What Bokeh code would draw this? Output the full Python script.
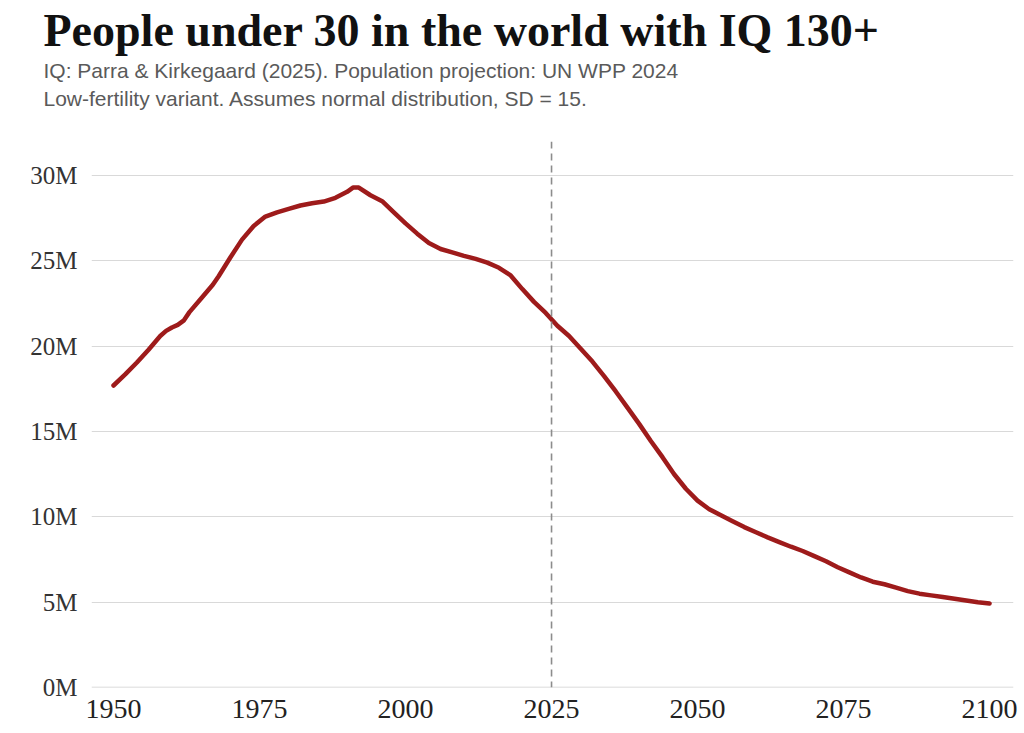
from bokeh.plotting import figure
from bokeh.models import Span, Title, FixedTicker, Range1d
from bokeh.embed import file_html
from bokeh.resources import INLINE

# ---- data (millions of people under 30 with IQ 130+) ----
years = [1950, 1952, 1954, 1956, 1958, 1959, 1960, 1961, 1962, 1963, 1965, 1967,
         1968, 1970, 1972, 1974, 1976, 1978, 1980, 1982, 1984, 1986, 1988, 1990,
         1991, 1992, 1994, 1996, 1998, 2000, 2002, 2004, 2006, 2008, 2010, 2012,
         2014, 2016, 2018, 2020, 2022, 2024, 2026, 2028, 2030, 2032, 2034, 2036,
         2038, 2040, 2042, 2044, 2046, 2048, 2050, 2052, 2054, 2056, 2058, 2060,
         2062, 2064, 2066, 2068, 2070, 2072, 2074, 2076, 2078, 2080, 2082, 2084,
         2086, 2088, 2090, 2092, 2094, 2096, 2098, 2100]
people_m = [17.7, 18.35, 19.05, 19.8, 20.6, 20.9, 21.1, 21.25, 21.5, 22.0, 22.8, 23.6,
            24.1, 25.2, 26.25, 27.05, 27.6, 27.85, 28.05, 28.25, 28.38, 28.48, 28.7, 29.05,
            29.3, 29.3, 28.85, 28.5, 27.85, 27.2, 26.6, 26.05, 25.7, 25.5, 25.3, 25.12,
            24.9, 24.6, 24.15, 23.35, 22.6, 21.95, 21.2, 20.6, 19.85, 19.1, 18.25, 17.35,
            16.4, 15.45, 14.45, 13.5, 12.5, 11.65, 10.95, 10.45, 10.1, 9.75, 9.4, 9.1,
            8.8, 8.52, 8.25, 8.0, 7.7, 7.4, 7.05, 6.75, 6.45, 6.2, 6.05, 5.85,
            5.65, 5.5, 5.4, 5.3, 5.2, 5.1, 5.0, 4.92]

x_ticks = [1950, 1975, 2000, 2025, 2050, 2075, 2100]
y_ticks = [0, 5, 10, 15, 20, 25, 30]
y_tick_labels = ["0M", "5M", "10M", "15M", "20M", "25M", "30M"]
marker_year = 2025

title_text = "People under 30 in the world with IQ 130+"
subtitle_1 = "IQ: Parra & Kirkegaard (2025). Population projection: UN WPP 2024"
subtitle_2 = "Low-fertility variant. Assumes normal distribution, SD = 15."

SERIF = "Liberation Serif"
SANS = "Liberation Sans"

p = figure(width=1020, height=732, output_backend="svg", toolbar_location=None,
           x_range=Range1d(1946.23, 2104.1), y_range=Range1d(0, 32),
           min_border_left=91, min_border_right=7, min_border_top=10,
           min_border_bottom=45)
p.outline_line_color = None
p.background_fill_color = "white"
p.border_fill_color = "white"

# axes
p.xaxis.ticker = FixedTicker(ticks=x_ticks)
p.yaxis.ticker = FixedTicker(ticks=y_ticks)
p.yaxis.major_label_overrides = {t: l for t, l in zip(y_ticks, y_tick_labels)}
p.xaxis.major_label_overrides = {t: str(t) for t in x_ticks}
for ax in (p.xaxis, p.yaxis):
    ax.axis_line_color = None
    ax.major_tick_line_color = None
    ax.minor_tick_line_color = None
    ax.major_tick_out = 0
    ax.major_tick_in = 0
    ax.major_label_text_font = SERIF
p.xaxis.major_label_text_font_size = "28px"
p.xaxis.major_label_text_color = "#222222"
p.xaxis.major_label_standoff = 12
p.yaxis.major_label_text_font_size = "25px"
p.yaxis.major_label_text_color = "#333333"
p.yaxis.major_label_standoff = 14

p.xgrid.grid_line_color = None
p.ygrid.grid_line_color = "#d9d9d9"
p.ygrid.grid_line_width = 1.2

# baseline at 0
p.add_layout(Span(location=0, dimension="width", line_color="#d0d0d0", line_width=1.5))

# 2025 marker
p.add_layout(Span(location=marker_year, dimension="height", line_color="#8c8c8c",
                  line_width=1.6, line_dash="7 5"))

# series
p.line(years, people_m, line_color="#9e1b1b", line_width=4.5,
       line_join="round", line_cap="round")

# titles: index 0 is nearest to the frame (first one is a blank spacer)
p.add_layout(Title(text=" ", text_font_size="1px", standoff=28), "above")
p.add_layout(Title(text=subtitle_1 + "\n" + subtitle_2, text_font=SANS,
                   text_font_size="21px", text_font_style="normal",
                   text_color="#5a5a5a", text_line_height=1.23,
                   align="left", offset=-48, standoff=0), "above")
p.add_layout(Title(text=title_text, text_font=SERIF, text_font_size="46px",
                   text_font_style="bold", text_color="#111111",
                   align="left", offset=-48, standoff=4), "above")

open("out.html", "w").write(file_html(p, INLINE))
